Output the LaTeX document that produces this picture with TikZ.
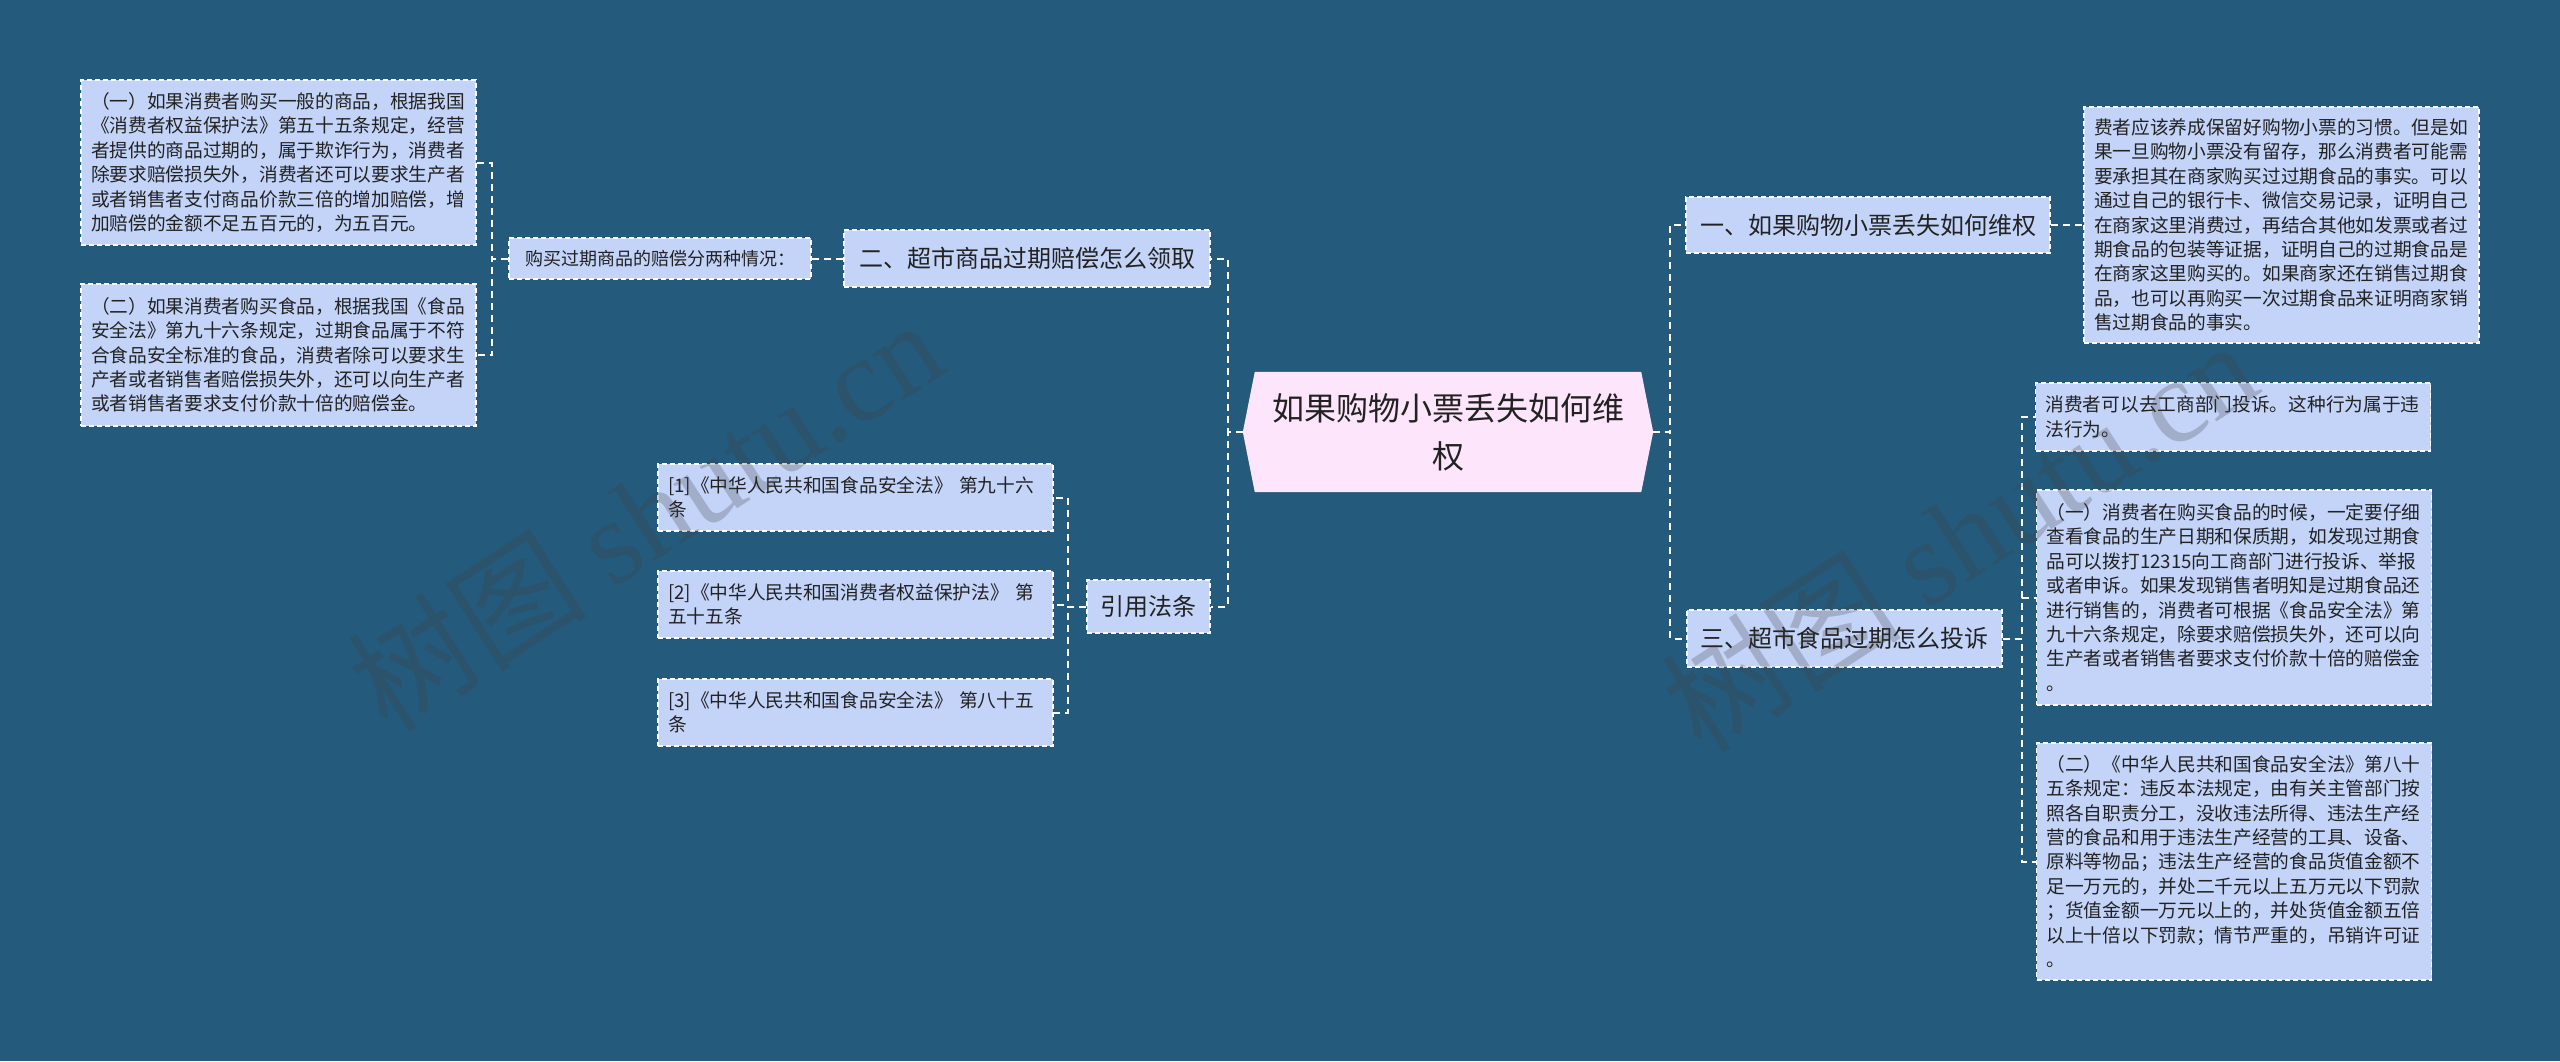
\documentclass[tikz,border=0pt]{standalone}
\usepackage{fontspec}
\setmainfont{Noto Sans CJK SC}
\newfontfamily\wmlatin{Liberation Serif}
\usetikzlibrary{calc}
\definecolor{bg}{HTML}{245A7B}
\definecolor{boxfill}{HTML}{C3D4F8}
\definecolor{rootfill}{HTML}{FDE6FB}
\definecolor{txt}{HTML}{222222}
\definecolor{wmcol}{HTML}{404040}
\tikzset{
  conn/.style={draw=white, line width=2pt, dash pattern=on 7pt off 5pt},
  box/.style={draw=white, fill=boxfill, line width=1.3pt, dash pattern=on 5pt off 3pt, text=txt, inner sep=0pt},
  topic/.style={box, font=\fontsize{24}{30}\selectfont, align=center},
  leaf/.style={box, font=\fontsize{18.7}{24.4}\selectfont, align=left, inner xsep=10pt, text width=375pt, minimum width=395pt},
  small/.style={box, font=\fontsize{18}{22}\selectfont, align=center},
  wm/.style={text=wmcol, text opacity=0.25, font=\fontsize{120}{120}\selectfont, rotate=33, inner sep=0pt},
}
\begin{document}
\begin{tikzpicture}[x=1pt,y=-1pt]
\fill[bg] (0,0) rectangle (2560,1061);
\useasboundingbox (0,0) rectangle (2560,1061);

% root
\node[minimum width=410pt, minimum height=120pt, inner sep=0pt, text=txt, align=center,
      font=\fontsize{32}{48}\selectfont] (root) at (1448,432) {};
\fill[rootfill] (root.west) -- ([xshift=12pt]root.north west) -- ([xshift=-12pt]root.north east)
  -- (root.east) -- ([xshift=-12pt]root.south east) -- ([xshift=12pt]root.south west) -- cycle;
\node[text=txt, align=center, font=\fontsize{32}{48}\selectfont] (roottext) at (root.center) {如果购物小票丢失如何维\\权};

% level 1
\node[topic, minimum width=364pt, minimum height=56pt] (n1) at (1868,225) {一、如果购物小票丢失如何维权};
\node[topic, minimum width=315pt, minimum height=57pt] (n3) at (1844.5,638.5) {三、超市食品过期怎么投诉};
\node[topic, minimum width=366pt, minimum height=57pt] (n2) at (1027,258.5) {二、超市商品过期赔偿怎么领取};
\node[topic, minimum width=123pt, minimum height=53pt] (nref) at (1148.5,606.5) {引用法条};

% level 2 left
\node[small, minimum width=302pt, minimum height=41pt] (n2a) at (660,258.5) {购买过期商品的赔偿分两种情况：};
\node[leaf, minimum height=165pt] (leafL1) at (278.5,162.5) {（一）如果消费者购买一般的商品，根据我国\\《消费者权益保护法》第五十五条规定，经营\\者提供的商品过期的，属于欺诈行为，消费者\\除要求赔偿损失外，消费者还可以要求生产者\\或者销售者支付商品价款三倍的增加赔偿，增\\加赔偿的金额不足五百元的，为五百元。};
\node[leaf, minimum height=142pt] (leafL2) at (278.5,355) {（二）如果消费者购买食品，根据我国《食品\\安全法》第九十六条规定，过期食品属于不符\\合食品安全标准的食品，消费者除可以要求生\\产者或者销售者赔偿损失外，还可以向生产者\\或者销售者要求支付价款十倍的赔偿金。};
\node[leaf, minimum height=67pt] (ref1) at (855.5,497.5) {[1]《中华人民共和国食品安全法》~第九十六\\条};
\node[leaf, minimum height=67pt] (ref2) at (855.5,604.5) {[2]《中华人民共和国消费者权益保护法》~第\\五十五条};
\node[leaf, minimum height=67pt] (ref3) at (855.5,712.5) {[3]《中华人民共和国食品安全法》~第八十五\\条};

% level 2 right
\node[leaf, minimum height=236pt] (leafR1) at (2281.5,225) {费者应该养成保留好购物小票的习惯。但是如\\果一旦购物小票没有留存，那么消费者可能需\\要承担其在商家购买过过期食品的事实。可以\\通过自己的银行卡、微信交易记录，证明自己\\在商家这里消费过，再结合其他如发票或者过\\期食品的包装等证据，证明自己的过期食品是\\在商家这里购买的。如果商家还在销售过期食\\品，也可以再购买一次过期食品来证明商家销\\售过期食品的事实。};
\node[leaf, minimum height=68pt] (leafR3a) at (2233,417) {消费者可以去工商部门投诉。这种行为属于违\\法行为。};
\node[leaf, minimum height=215pt] (leafR3b) at (2234,597.5) {（一）消费者在购买食品的时候，一定要仔细\\查看食品的生产日期和保质期，如发现过期食\\品可以拨打12315向工商部门进行投诉、举报\\或者申诉。如果发现销售者明知是过期食品还\\进行销售的，消费者可根据《食品安全法》第\\九十六条规定，除要求赔偿损失外，还可以向\\生产者或者销售者要求支付价款十倍的赔偿金\\。};
\node[leaf, minimum height=237pt] (leafR3c) at (2234,861.5) {（二）《中华人民共和国食品安全法》第八十\\五条规定：违反本法规定，由有关主管部门按\\照各自职责分工，没收违法所得、违法生产经\\营的食品和用于违法生产经营的工具、设备、\\原料等物品；违法生产经营的食品货值金额不\\足一万元的，并处二千元以上五万元以下罚款\\；货值金额一万元以上的，并处货值金额五倍\\以上十倍以下罚款；情节严重的，吊销许可证\\。};

% connectors
\draw[conn] (root.west) -- ++(-15,0) |- (n2.east);
\draw[conn] (root.west) -- ++(-15,0) |- (nref.east);
\draw[conn] (root.east) -- ++(17,0) |- (n1.west);
\draw[conn] (root.east) -- ++(17,0) |- (n3.west);
\draw[conn] (n1.east) -- (leafR1.west);
\draw[conn] (n3.east) -- ++(19,0) |- (leafR3a.west);
\draw[conn] (n3.east) -- ++(19,0) |- (leafR3b.west);
\draw[conn] (n3.east) -- ++(19,0) |- (leafR3c.west);
\draw[conn] (n2.west) -- (n2a.east);
\draw[conn] (n2a.west) -- ++(-16,0) |- (leafL1.east);
\draw[conn] (n2a.west) -- ++(-16,0) |- (leafL2.east);
\draw[conn] (nref.west) -- ++(-18,0) |- (ref1.east);
\draw[conn] (nref.west) -- ++(-18,0) |- (ref2.east);
\draw[conn] (nref.west) -- ++(-18,0) |- (ref3.east);

% watermarks
\node[wm] (wm1) at (645,514) {树图 {\wmlatin shutu.cn}};
\node[wm] (wm2) at (1959,535) {树图 {\wmlatin shutu.cn}};
\end{tikzpicture}
\end{document}
